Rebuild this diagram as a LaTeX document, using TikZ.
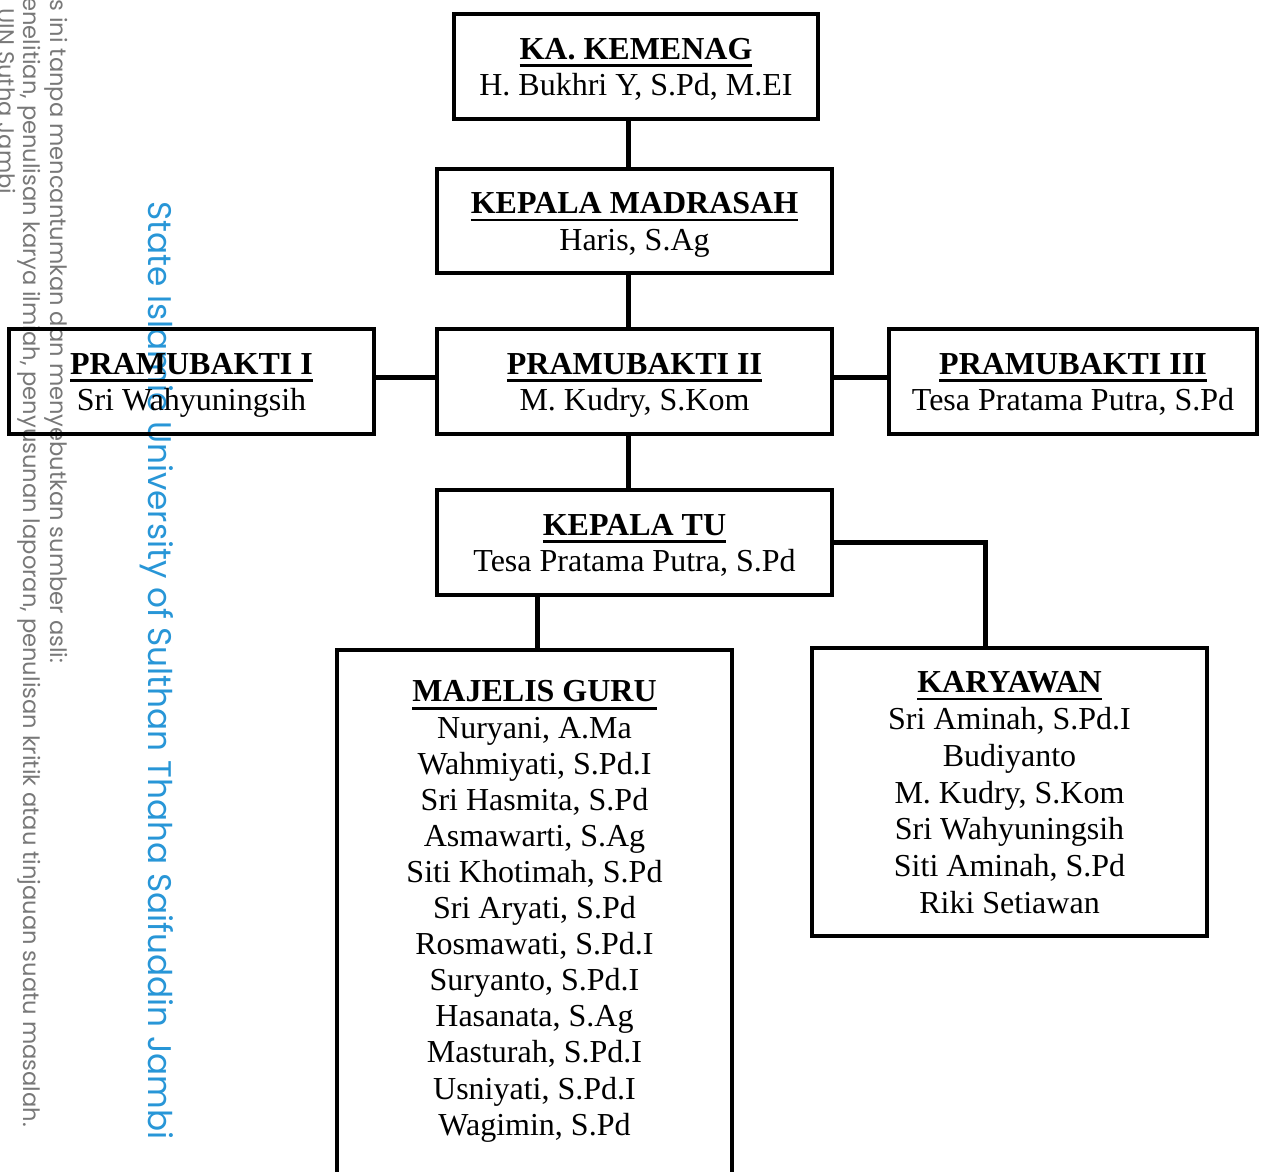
\documentclass[tikz,border=0pt]{standalone}
\usepackage{xcolor}
\usepackage{graphicx}
\usepackage{fontspec}
\usepackage{tikz}

\setmainfont{Liberation Serif}
\newfontfamily\wmfont{Poppins}
\definecolor{wmblue}{RGB}{40,150,215}
\definecolor{wmgray}{RGB}{120,120,120}
\newsavebox{\judulbox}
\newcommand{\judul}[1]{\rule{0pt}{15pt}\sbox{\judulbox}{\textbf{#1}}\rlap{\rule[-3.8pt]{\wd\judulbox}{1.3pt}}\usebox{\judulbox}}
\newcommand{\akhir}{\rule[-4pt]{0pt}{4pt}}

\begin{document}
\begin{tikzpicture}[
				x=0.5pt, y=-0.5pt,
				jabatan/.style={
					draw=black,
					line width=2pt,
					align=center,
					inner sep=0pt,
					minimum width=197.5pt,
					minimum height=52.5pt,
					font=\fontsize{16}{18.4}\selectfont
				},
				garis/.style={
					draw=black,
					line width=2.5pt
				},
				tandaair/.style={
					rotate=-90,
					anchor=base west,
					inner sep=0pt,
					text=wmgray,
					font=\wmfont\fontsize{11.3}{13}\selectfont
				}
			]

				\useasboundingbox (0,0) rectangle (1261,1171);
				\clip (0,0) rectangle (1261,1171);

				% watermark
				\node[tandaair] (wm1) at (50,-1) {s ini tanpa mencantumkan dan menyebutkan sumber asli:};
				\node[tandaair] (wm2) at (23,-3) {enelitian, penulisan karya ilmiah, penyusunan laporan, penulisan kritik atau tinjauan suatu masalah.};
				\node[tandaair] (wm3) at (-2,8) {UIN Sutha Jambi};
				\node[tandaair, text=wmblue, font=\wmfont] (wm4) at (148,201)
					{\resizebox{469pt}{!}{State Islamic University of Sulthan Thaha Saifuddin Jambi}};

				\node[jabatan, minimum width=182pt] (ka) at (636,66.5)
					{\judul{KA. KEMENAG}\\H. Bukhri Y, S.Pd, M.EI\akhir};
				\node[jabatan, minimum height=52pt] (km) at (634.5,221)
					{\judul{KEPALA MADRASAH}\\Haris, S.Ag\akhir};
				\node[jabatan, minimum width=182.5pt] (p1) at (191.5,381.5)
					{\judul{PRAMUBAKTI I}\\Sri Wahyuningsih\akhir};
				\node[jabatan] (p2) at (634.5,381.5)
					{\judul{PRAMUBAKTI II}\\M. Kudry, S.Kom\akhir};
				\node[jabatan, minimum width=184pt] (p3) at (1073,381.5)
					{\judul{PRAMUBAKTI III}\\Tesa Pratama Putra, S.Pd\akhir};
				\node[jabatan] (tu) at (634.5,542.5)
					{\judul{KEPALA TU}\\Tesa Pratama Putra, S.Pd\akhir};
				\node[jabatan, minimum height=275pt, font=\fontsize{16}{18.05}\selectfont] (mg) at (534.5,925)
					{\judul{MAJELIS GURU}\\Nuryani, A.Ma\\Wahmiyati, S.Pd.I\\Sri Hasmita, S.Pd\\Asmawarti, S.Ag\\Siti Khotimah, S.Pd\\Sri Aryati, S.Pd\\Rosmawati, S.Pd.I\\Suryanto, S.Pd.I\\Hasanata, S.Ag\\Masturah, S.Pd.I\\Usniyati, S.Pd.I\\Wagimin, S.Pd\rule[-21.5pt]{0pt}{21.5pt}};
				\node[jabatan, minimum height=144pt] (kar) at (1009.5,792)
					{\judul{KARYAWAN}\\Sri Aminah, S.Pd.I\\Budiyanto\\M. Kudry, S.Kom\\Sri Wahyuningsih\\Siti Aminah, S.Pd\\Riki Setiawan\akhir};

				\coordinate (tengah) at (628,0);
				\coordinate (palang) at (0,377);
				\coordinate (kiri) at (537,0);
				\coordinate (belok) at (985,0);

				\draw[garis]
					(ka.south -| tengah) -- (km.north -| tengah);

				\draw[garis]
					(km.south -| tengah) -- (p2.north -| tengah);

				\draw[garis]
					(p1.east |- palang) -- (p2.west |- palang);

				\draw[garis]
					(p2.east |- palang) -- (p3.west |- palang);

				\draw[garis]
					(p2.south -| tengah) -- (tu.north -| tengah);

				\draw[garis]
					(tu.south -| kiri) -- (mg.north -| kiri);

				\draw[garis]
					(tu.east) -| (kar.north -| belok);

			\end{tikzpicture}
\end{document}
